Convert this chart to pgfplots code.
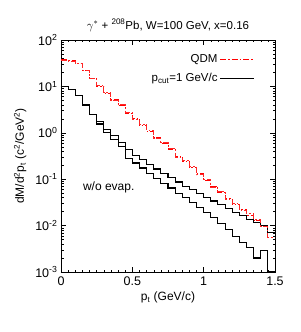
\documentclass[border=0pt]{standalone}
\usepackage{pgfplots}
\pgfplotsset{compat=1.18}
\usepackage{pgfplotstable}
\usepackage{fontspec}
\setmainfont{Liberation Sans}
\pgfplotstableread{
x red redb bup blo
0.00 37.2 36.0 9.77 9.77
0.05 35.5 34.0 8.71 8.71
0.10 31.6 30.5 6.46 6.46
0.15 21.9 22.5 3.98 3.98
0.20 15.1 14.5 2.51 2.51
0.25 10.0 10.6 1.74 1.55
0.30 7.08 7.4 1.20 1.00
0.35 5.25 5.0 0.871 0.724
0.40 3.80 4.0 0.631 0.501
0.45 2.63 2.75 0.437 0.282
0.50 2.00 1.90 0.331 0.224
0.55 1.45 1.52 0.263 0.174
0.60 1.07 1.12 0.209 0.135
0.65 0.794 0.76 0.166 0.105
0.70 0.603 0.63 0.132 0.0813
0.75 0.437 0.46 0.107 0.0646
0.80 0.316 0.30 0.0871 0.0501
0.85 0.240 0.25 0.0708 0.0398
0.90 0.178 0.19 0.0589 0.0316
0.95 0.132 0.125 0.0490 0.0245
1.00 0.0955 0.100 0.0407 0.0191
1.05 0.0708 0.067 0.0339 0.0148
1.10 0.0525 0.055 0.0282 0.0112
1.15 0.0380 0.036 0.0234 0.00832
1.20 0.0282 0.030 0.0195 0.00575
1.25 0.0219 0.021 0.0162 0.00437
1.30 0.0166 0.018 0.0138 0.00331
1.35 0.0126 0.0135 0.0117 0.00200
1.40 0.0100 0.0095 0.0100 0.00295
1.45 0.00708 0.0055 0.00724 0.0010
1.50 0.00708 0.0055 0.00724 0.0010
}\datatab
\begin{document}
\begin{tikzpicture}[x=1pt,y=1pt]
\useasboundingbox (-61,-60) rectangle (239,272);
\begin{axis}[
  at={(0,0)}, anchor=south west,
  scale only axis, width=214pt, height=232pt,
  xmin=0, xmax=1.5, ymin=1e-3, ymax=1e2, ymode=log,
  xtick={0,0.5,1,1.5}, xticklabels={0,0.5,1,1.5},
  minor x tick num=9,
  ytick={1e-3,1e-2,1e-1,1,10,100},
  yticklabels={10\textsuperscript{-3},10\textsuperscript{-2},10\textsuperscript{-1},10\textsuperscript{0},10\textsuperscript{1},10\textsuperscript{2}},
  tick align=inside, tick pos=both,
  major tick length=5pt, minor tick length=2.5pt,
  every tick/.style={black, line width=0.4pt},
  axis line style={line width=0.8pt},
  tick label style={font=\fontsize{12.5}{14}\selectfont},
  xticklabel style={yshift=-1pt},
  xlabel={p\textsubscript{t} (GeV/c)},
  ylabel={dM/d\textsuperscript{2}p\textsubscript{t} (c\textsuperscript{2}/GeV\textsuperscript{2})},
  label style={font=\fontsize{12}{14}\selectfont},
  ylabel style={yshift=2pt},
  title={$\gamma^{*}$ + \textsuperscript{208}Pb, W=100 GeV, x=0.16},
  title style={font=\fontsize{11.5}{13}\selectfont, yshift=-1pt},
  legend style={at={(0.92,0.965)}, anchor=north east, draw=none, fill=none,
    font=\fontsize{11.5}{13}\selectfont, nodes={inner ysep=4.5pt}},
  legend cell align=right, legend plot pos=right,
  clip=true,
]
\addlegendimage{legend image code/.code={\draw[draw=red, line width=1pt, dash pattern=on 6pt off 2pt on 1.5pt off 2pt] (0pt,0pt) -- (34pt,0pt);}}
\addlegendentry{QDM}
\addlegendimage{legend image code/.code={\draw[draw=black, line width=1.1pt] (0pt,0pt) -- (34pt,0pt);}}
\addlegendentry{p\textsubscript{cut}=1 GeV/c}
\addplot[const plot, red, line width=0.9pt, dash pattern=on 6pt off 2pt on 1.5pt off 2pt, forget plot] table[x=x,y=red]{\datatab};
\addplot[const plot, black, line width=1.1pt, forget plot] table[x=x,y=bup]{\datatab};
\addplot[const plot, red!85!white, line width=0.9pt, dash pattern=on 6pt off 2pt on 1.5pt off 2pt, forget plot] table[x=x,y=redb]{\datatab};
\addplot[const plot, black, line width=1.1pt, forget plot] table[x=x,y=blo]{\datatab};
\node[anchor=west, font=\fontsize{12}{14}\selectfont] at (axis cs:0.13,0.068) {w/o evap.};
\end{axis}
\end{tikzpicture}
\end{document}
